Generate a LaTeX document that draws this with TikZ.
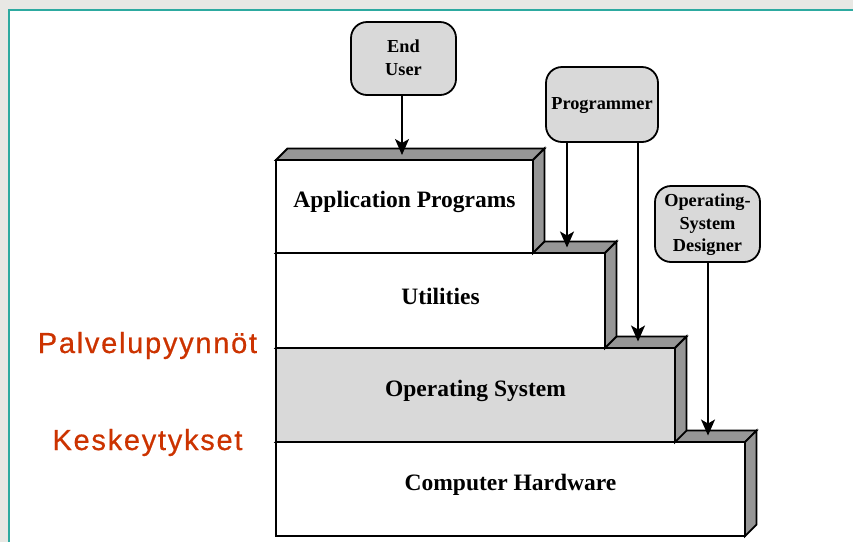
\documentclass[tikz,border=0pt]{standalone}
\usepackage{fontspec}
\setmainfont{Liberation Serif}
\newfontfamily\redfont[LetterSpace=6,FakeBold=0.6]{Liberation Sans}
\usetikzlibrary{arrows.meta}
\definecolor{facegray}{RGB}{150,150,150}
\definecolor{lightfill}{RGB}{217,217,217}
\definecolor{redlabel}{RGB}{204,51,0}
\definecolor{frameteal}{RGB}{45,170,160}
\definecolor{bggray}{RGB}{232,232,228}
\newcommand\mydepth{11.5}
\newcommand\depthfaces[1]{%
  \filldraw[face] (#1.north west) -- ++(\mydepth,-\mydepth) -- ([shift={(\mydepth,-\mydepth)}]#1.north east) -- (#1.north east) -- cycle;
  \filldraw[face] (#1.north east) -- ([shift={(\mydepth,-\mydepth)}]#1.north east) -- ([shift={(\mydepth,-\mydepth)}]#1.south east) -- (#1.south east) -- cycle;}
\begin{document}
\begin{tikzpicture}[x=1pt,y=-1pt,
  layer/.style={draw, line width=1.8pt, outer sep=0pt, inner sep=0pt, anchor=north west, fill=white},
  face/.style={draw, line width=1.8pt, fill=facegray, line join=miter},
  boxtext/.style={font=\fontsize{23.5}{27}\selectfont\bfseries, inner sep=0pt},
  actor/.style={draw, line width=1.8pt, fill=lightfill, rounded corners=16pt, align=center, inner sep=0pt,
    font=\fontsize{18.3}{22.5}\selectfont\bfseries, text depth=2pt},
  conn/.style={line width=1.5pt, -{Stealth[length=16pt,width=14pt,inset=4pt]}},
  redtext/.style={font=\redfont\fontsize{29}{33}\selectfont, text=redlabel, inner sep=0pt}]
\useasboundingbox (0,0) rectangle (853,542);
\fill[bggray] (0,0) rectangle (853,542);
\fill[white] (9,10) rectangle (853,542);
\draw[frameteal, line width=1.5pt] (9,542) -- (9,10) -- (853,10);

% layers, bottom to top
\node[layer, minimum width=469pt, minimum height=94pt,
  label={[boxtext,yshift=4.5pt]center:Computer Hardware}] (hw) at (276,442) {};
\depthfaces{hw}
\node[layer, fill=lightfill, minimum width=399pt, minimum height=94pt,
  label={[boxtext,yshift=4.5pt]center:Operating System}] (os) at (276,348) {};
\depthfaces{os}
\node[layer, minimum width=329pt, minimum height=95pt,
  label={[boxtext,yshift=4.5pt]center:Utilities}] (util) at (276,253) {};
\depthfaces{util}
\node[layer, minimum width=257pt, minimum height=93pt,
  label={[boxtext,yshift=4.5pt]center:Application Programs}] (app) at (276,160) {};
\depthfaces{app}

% users
\node[actor, minimum width=105pt, minimum height=73pt] (enduser) at (403.5,58.5) {End\\User};
\node[actor, minimum width=112pt, minimum height=75pt] (programmer) at (602,104.5) {Programmer};
\node[actor, minimum width=105pt, minimum height=76pt] (osd) at (707.5,224) {Operating-\\System\\Designer};

% connectors
\coordinate (euT) at (402,155);
\coordinate (prT1) at (567,247.5);
\coordinate (prT2) at (638,341.5);
\coordinate (osdT) at (708,435.5);
\draw[conn] (enduser.south -| euT) -- (euT);
\draw[conn] (programmer.south -| prT1) -- (prT1);
\draw[conn] (programmer.south -| prT2) -- (prT2);
\draw[conn] (osd.south -| osdT) -- (osdT);

% side labels
\node[redtext, anchor=base] (palv) at (147.5,353) {Palvelupyynnöt};
\node[redtext, anchor=base] (kesk) at (147.5,450) {Keskeytykset};
\end{tikzpicture}
\end{document}
